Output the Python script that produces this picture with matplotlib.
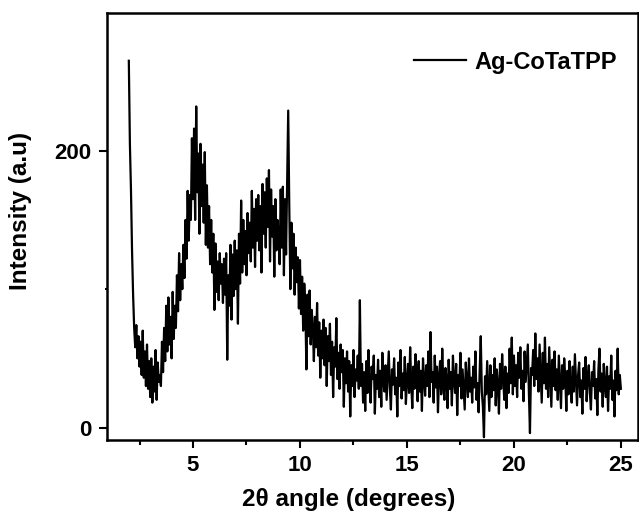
import numpy as np
import matplotlib
matplotlib.use("Agg")
import matplotlib.pyplot as plt
from matplotlib.ticker import MultipleLocator

plt.rcParams['font.family'] = ['Liberation Sans', 'DejaVu Sans']
plt.rcParams['font.weight'] = 'bold'

# XRD scan: 2 theta from 2 to 25 deg, step 0.05
two_theta_start = 2.0
two_theta_step = 0.05

# intensity, one row per degree
intensity = [
    265, 205, 172, 128, 96, 72, 58, 74, 50, 66, 44, 62, 38, 70, 36, 55, 30, 60, 28, 48,
    22, 50, 18, 44, 26, 56, 20, 47, 33, 38, 30, 62, 40, 72, 48, 88, 55, 94, 60, 80,
    50, 98, 64, 88, 72, 110, 84, 126, 92, 118, 100, 132, 108, 150, 122, 171, 135, 168, 150, 209,
    165, 216, 150, 232, 170, 198, 140, 205, 160, 190, 148, 199, 132, 175, 130, 160, 118, 150, 112, 140,
    85, 133, 98, 120, 92, 126, 104, 118, 90, 122, 96, 126, 49, 110, 88, 132, 78, 125, 95, 135,
    100, 128, 75, 140, 104, 164, 112, 150, 118, 142, 110, 155, 126, 148, 120, 171, 130, 158, 116, 165,
    135, 168, 128, 160, 112, 176, 140, 170, 130, 180, 145, 186, 120, 172, 138, 160, 109, 165, 128, 150,
    140, 118, 172, 130, 174, 110, 165, 125, 176, 229, 160, 100, 148, 115, 140, 96, 130, 105, 123, 86,
    121, 82, 109, 70, 104, 88, 42, 96, 66, 99, 60, 85, 72, 48, 80, 58, 90, 52, 76, 36,
    70, 50, 78, 45, 72, 30, 66, 48, 75, 38, 62, 22, 58, 44, 79, 35, 54, 28, 60, 40,
    56, 15, 50, 32, 55, 26, 48, 8, 45, 30, 56, 22, 42, 34, 52, 28, 92, 30, 46, 18,
    40, 12, 48, 25, 56, 30, 18, 44, 35, 52, 10, 38, 28, 49, 22, 41, 15, 54, 33, 26,
    45, 20, 38, 55, 29, 13, 42, 31, 50, 24, 36, 8, 47, 30, 56, 21, 39, 27, 51, 17,
    34, 46, 25, 58, 32, 14, 44, 28, 53, 38, 19, 48, 26, 41, 12, 50, 35, 23, 45, 30,
    55, 22, 69, 33, 40, 18, 52, 29, 44, 11, 37, 48, 24, 57, 31, 20, 43, 35, 14, 49,
    28, 40, 16, 52, 34, 25, 46, 9, 38, 30, 54, 21, 42, 27, 13, 47, 33, 22, 50, 26,
    36, 18, 44, 29, 55, 20, 32, 11, 41, 66, 26, 15, -7, 37, 24, 48, 30, 12, 45, 22,
    38, 27, 50, 16, 42, 31, 10, 46, 28, 53, 35, 20, 44, 14, 39, 25, 57, 32, 65, 24,
    52, 30, 45, 22, 54, 36, 58, 28, 41, 19, 55, 33, 47, 60, 25, -4, 43, 38, 56, 30,
    68, 35, 50, 26, 60, 40, 18, 54, 32, 65, 28, 46, 22, 58, 37, 15, 49, 30, 55, 27,
    42, 20, 52, 33, 14, 45, 28, 50, 36, 12, 41, 24, 48, 31, 18, 44, 26, 53, 35, 16,
    38, 47, 22, 34, 10, 43, 28, 51, 19, 36, 45, 25, 13, 40, 30, 48, 21, 35, 9, 42,
    57, 26, 39, 15, 46, 30, 22, 44, 12, 37, 28, 52, 20, 34, 8, 41, 27, 57, 24, 38,
    28,
]

two_theta = two_theta_start + two_theta_step * np.arange(len(intensity))

fig = plt.figure(figsize=(6.39, 5.22), dpi=100)
ax = fig.add_axes([107/639, 1 - 440/522, 531/639, 427/522])

ax.plot(two_theta, intensity, color='black', lw=1.6, label='Ag-CoTaTPP')

ax.set_xlim(0.98, 25.8)
ax.set_ylim(-9, 299.5)
ax.set_xticks([5, 10, 15, 20, 25])
ax.xaxis.set_minor_locator(MultipleLocator(2.5))
ax.set_yticks([0, 200])
ax.yaxis.set_minor_locator(MultipleLocator(100))

ax.tick_params(which='major', direction='out', length=6, width=1.5, labelsize=16, pad=5)
ax.tick_params(axis='x', which='minor', direction='out', length=3.5, width=1.5)
ax.tick_params(axis='y', which='minor', direction='out', length=1.5, width=1.5)
for sp in ax.spines.values():
    sp.set_linewidth(1.8)

ax.set_xlabel('2θ angle (degrees)', fontsize=17.5, fontweight='bold')
ax.set_ylabel('Intensity (a.u)', fontsize=17.5, fontweight='bold')
ax.xaxis.set_label_coords(0.456, -0.112)
ax.yaxis.set_label_coords(-0.141, 0.536)

ax.legend(loc='center right', bbox_to_anchor=(0.96, 0.885), frameon=False,
          fontsize=17, handlelength=2.2, handletextpad=0.35,
          borderpad=0, borderaxespad=0)

fig.savefig('out.png', dpi=100)
